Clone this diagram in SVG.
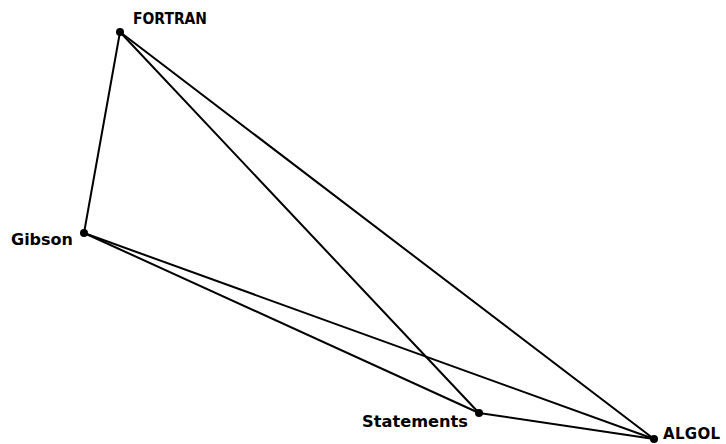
<svg xmlns="http://www.w3.org/2000/svg" width="726" height="444" viewBox="0 0 726 444">
<style>
.e{stroke:#000;stroke-width:2;fill:none;stroke-linecap:round}
.d{fill:#000}
.t{font-family:"DejaVu Sans","Liberation Sans",sans-serif;font-weight:bold;font-size:15px;fill:#000}
</style>
<rect width="726" height="444" fill="#fff"/>
<g id="connectors">
<line class="e" x1="120" y1="32" x2="84" y2="233"/>
<line class="e" x1="120" y1="32" x2="479" y2="413"/>
<line class="e" x1="120" y1="32" x2="654" y2="439"/>
<line class="e" x1="84" y1="233" x2="479" y2="413"/>
<line class="e" x1="84" y1="233" x2="654" y2="439"/>
<line class="e" x1="479" y1="413" x2="654" y2="439"/>
</g>
<g id="FORTRAN">
<circle class="d" cx="120" cy="32" r="4"/>
<text class="t" x="133" y="24" textLength="74" lengthAdjust="spacingAndGlyphs">FORTRAN</text>
</g>
<g id="Gibson">
<circle class="d" cx="84" cy="233" r="4"/>
<text class="t" x="11" y="245" textLength="62" lengthAdjust="spacingAndGlyphs">Gibson</text>
</g>
<g id="Statements">
<circle class="d" cx="479" cy="413" r="4"/>
<text class="t" x="362" y="427" textLength="106" lengthAdjust="spacingAndGlyphs">Statements</text>
</g>
<g id="ALGOL">
<circle class="d" cx="654" cy="439" r="4"/>
<text class="t" x="663" y="439" textLength="57" lengthAdjust="spacing">ALGOL</text>
</g>
</svg>
